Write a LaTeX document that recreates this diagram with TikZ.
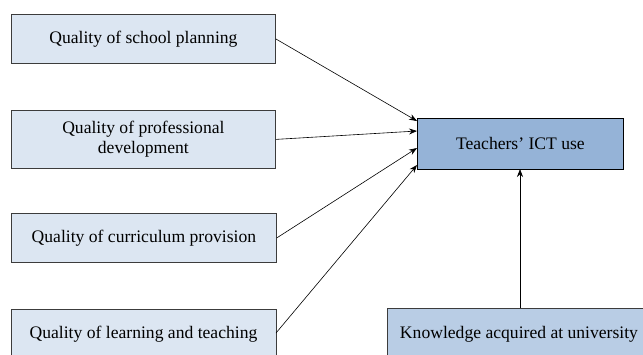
\documentclass[tikz,border=0pt]{standalone}
\usepackage{fontspec}
\setmainfont{Liberation Serif}
\usetikzlibrary{arrows.meta}
\definecolor{lightbox}{RGB}{220,230,242}
\definecolor{midbox}{RGB}{185,205,229}
\definecolor{darkbox}{RGB}{149,179,215}
\definecolor{edgegray}{RGB}{60,60,60}
\tikzset{
  bigtext/.style={font=\fontsize{17.6}{19.5}\selectfont},
  qbox/.style={draw=edgegray, line width=0.8pt, fill=lightbox, minimum width=264pt, minimum height=49pt, inner sep=0pt, align=center, bigtext, anchor=north west},
  conn/.style={draw=black, line width=0.6pt, -{Stealth[length=8pt,width=6pt]}}
}
\begin{document}
\begin{tikzpicture}[x=1pt,y=-1pt]
\useasboundingbox (0,0) rectangle (643,354);
\clip (0,0) rectangle (643,354);
\fill[white] (0,0) rectangle (643,354);
\node[qbox] (q1) at (11,14) {Quality of school planning};
\node[qbox, minimum height=58pt] (q2) at (11,110) {Quality of professional\\development};
\node[qbox, minimum width=265pt] (q3) at (11,213) {Quality of curriculum provision};
\node[qbox, minimum width=265pt] (q4) at (11,309) {};
\node[bigtext] (q4t) at (143.5,334) {Quality of learning and teaching};
\node[qbox, fill=darkbox, draw=black, minimum width=206pt, minimum height=51pt] (t) at (417,118) {Teachers’ ICT use};
\node[qbox, fill=midbox, minimum width=258pt, minimum height=50pt] (k) at (387,308) {};
\node[bigtext] (kt) at (519,334) {Knowledge acquired at university};
\coordinate (a1) at (417,121);
\coordinate (a2) at (417,131);
\coordinate (a3) at (417,148);
\coordinate (a4) at (417,165);
\coordinate (s4) at (276,333);
\coordinate (kk) at (520,308);
\coordinate (ka) at (520,169);
\draw[conn] (q1.east) -- (a1);
\draw[conn] (q2.east) -- (a2);
\draw[conn] (q3.east) -- (a3);
\draw[conn] (s4) -- (a4);
\draw[conn] (kk) -- (ka);
\end{tikzpicture}
\end{document}
